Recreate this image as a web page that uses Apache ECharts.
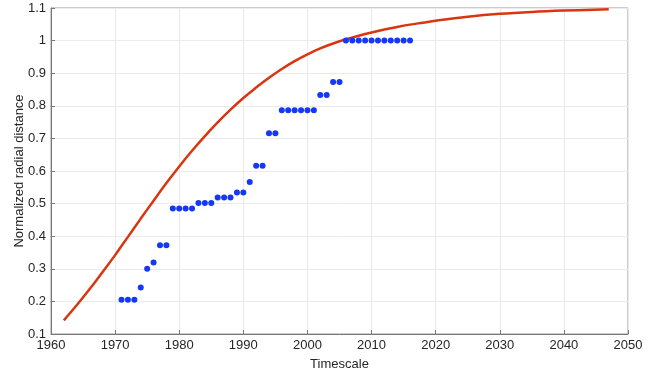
<!DOCTYPE html>
<html>
<head>
<meta charset="utf-8">
<script src="https://cdn.jsdelivr.net/npm/echarts@6/dist/echarts.min.js"></script>
<style>
  html, body { margin: 0; padding: 0; background: #fff; }
  #chart { width: 667px; height: 374px; }
</style>
</head>
<body>
<div id="chart"></div>
<script>
// fitted curve
const curveYears = [1962, 1964, 1966, 1968, 1970, 1972, 1974, 1976, 1978, 1980, 1982, 1984, 1986, 1988, 1990, 1992, 1994, 1996, 1998, 2000, 2002, 2004, 2006, 2008, 2010, 2012, 2014, 2016, 2018, 2020, 2025, 2030, 2035, 2040, 2047];
const curveValues = [0.142, 0.188, 0.237, 0.289, 0.342, 0.398, 0.454, 0.509, 0.563, 0.614, 0.662, 0.707, 0.749, 0.788, 0.824, 0.856, 0.886, 0.913, 0.937, 0.958, 0.976, 0.991, 1.004, 1.015, 1.025, 1.034, 1.042, 1.049, 1.055, 1.061, 1.073, 1.082, 1.088, 1.092, 1.096];

// observed points
const dotYears = [1971, 1972, 1973, 1974, 1975, 1976, 1977, 1978, 1979, 1980, 1981, 1982, 1983, 1984, 1985, 1986, 1987, 1988, 1989, 1990, 1991, 1992, 1993, 1994, 1995, 1996, 1997, 1998, 1999, 2000, 2001, 2002, 2003, 2004, 2005, 2006, 2007, 2008, 2009, 2010, 2011, 2012, 2013, 2014, 2015, 2016];
const dotValues = [0.205, 0.205, 0.205, 0.243, 0.3, 0.319, 0.372, 0.372, 0.485, 0.485, 0.485, 0.485, 0.502, 0.502, 0.502, 0.519, 0.519, 0.519, 0.534, 0.534, 0.566, 0.616, 0.616, 0.716, 0.716, 0.786, 0.786, 0.786, 0.786, 0.786, 0.786, 0.833, 0.833, 0.873, 0.873, 1, 1, 1, 1, 1, 1, 1, 1, 1, 1, 1];

const chart = echarts.init(document.getElementById('chart'));

const font = 'Liberation Sans, Arial, sans-serif';
const axisText = { color: '#262626', fontSize: 13, fontFamily: font };

const option = {
  animation: false,
  grid: {
    left: 51, right: 39, top: 8, bottom: 40,
    outerBoundsMode: 'none',
    containLabel: false,
    show: true, borderColor: '#9a9a9a', borderWidth: 1
  },
  xAxis: {
    type: 'value',
    min: 1960, max: 2050, interval: 10,
    name: 'Timescale',
    nameLocation: 'middle',
    nameGap: 24,
    nameTextStyle: { color: '#262626', fontSize: 13, fontFamily: font },
    axisLine: { lineStyle: { color: '#777' } },
    axisTick: { inside: true, length: 4, lineStyle: { color: '#777' } },
    axisLabel: Object.assign({ margin: 5, formatter: v => String(v) }, axisText),
    splitLine: { show: true, lineStyle: { color: '#ebebeb' } }
  },
  yAxis: {
    type: 'value',
    min: 0.1, max: 1.1, interval: 0.1,
    name: 'Normalized radial distance',
    nameLocation: 'middle',
    nameGap: 25,
    nameMoveOverlap: false,
    nameTextStyle: { color: '#262626', fontSize: 13, fontFamily: font },
    axisLine: { show: true, lineStyle: { color: '#777' } },
    axisTick: { show: true, inside: true, length: 4, lineStyle: { color: '#777' } },
    axisLabel: Object.assign({
      margin: 5,
      formatter: v => String(Math.round(v * 10) / 10)
    }, axisText),
    splitLine: { show: true, lineStyle: { color: '#ebebeb' } }
  },
  series: [
    {
      type: 'line',
      data: curveYears.map((y, i) => [y, curveValues[i]]),
      smooth: 0.4,
      showSymbol: false,
      lineStyle: { color: '#d9360f', width: 2.5 },
      z: 2
    },
    {
      type: 'scatter',
      data: dotYears.map((y, i) => [y, dotValues[i]]),
      symbol: 'circle',
      symbolSize: 6,
      itemStyle: { color: '#1438f5', opacity: 1 },
      z: 3
    }
  ]
};

chart.setOption(option);
</script>
</body>
</html>
